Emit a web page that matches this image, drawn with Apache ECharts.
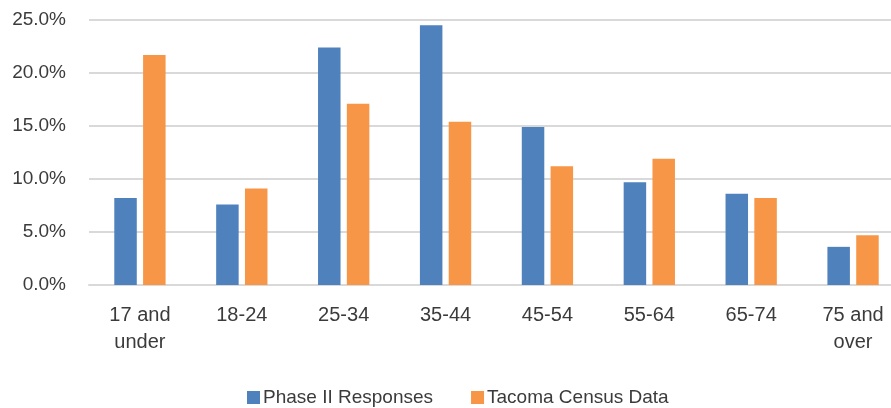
<!DOCTYPE html>
<html>
<head>
<meta charset="utf-8">
<script src="https://cdn.jsdelivr.net/npm/echarts@6/dist/echarts.min.js"></script>
<style>
  html, body { margin: 0; padding: 0; background: #ffffff; }
  #chart { width: 891px; height: 408px; }
</style>
</head>
<body>
<div id="chart"></div>
<script>
// Age groups on the category axis
const ageGroups = ['17 and\nunder', '18-24', '25-34', '35-44', '45-54', '55-64', '65-74', '75 and\nover'];
// Share of respondents per age group (%)
const phaseTwoResponses = [8.2, 7.6, 22.4, 24.5, 14.9, 9.7, 8.6, 3.6];
// Share of city population per age group (%)
const tacomaCensus = [21.7, 9.1, 17.1, 15.4, 11.2, 11.9, 8.2, 4.7];
// Value axis ticks (%)
const yTicks = { min: 0, max: 25, step: 5 };

const fontFamily = '"Liberation Sans", Arial, sans-serif';
const textColor = '#3b3b3b';

const chart = echarts.init(document.getElementById('chart'), null, { renderer: 'canvas' });
chart.setOption({
  backgroundColor: '#ffffff',
  animation: false,
  // plot area runs past the right edge of the canvas
  grid: { left: 89, top: 20, width: 815, height: 265, containLabel: false, outerBoundsMode: 'none' },
  legend: {
    left: 242,
    top: 383,
    itemWidth: 13,
    itemHeight: 13,
    itemGap: 38,
    icon: 'rect',
    textStyle: { fontFamily, fontSize: 19, color: textColor, padding: [0, 0, 0, -2] },
    data: ['Phase II Responses', 'Tacoma Census Data']
  },
  xAxis: {
    type: 'category',
    data: ageGroups,
    axisLine: { show: true, lineStyle: { color: '#d9d9d9', width: 2 } },
    axisTick: { show: false },
    axisLabel: {
      fontFamily, fontSize: 20, color: textColor, margin: 17, lineHeight: 27, interval: 0
    }
  },
  yAxis: {
    type: 'value',
    min: yTicks.min,
    max: yTicks.max,
    interval: yTicks.step,
    axisLine: { show: false },
    axisTick: { show: false },
    splitLine: { lineStyle: { color: '#d9d9d9', width: 2 } },
    axisLabel: {
      fontFamily, fontSize: 19, color: textColor, margin: 23,
      formatter: v => v.toFixed(1) + '%'
    }
  },
  series: [
    {
      name: 'Phase II Responses',
      type: 'bar',
      data: phaseTwoResponses,
      barWidth: 22.5,
      barGap: '28%',
      itemStyle: { color: '#4f81bd' }
    },
    {
      name: 'Tacoma Census Data',
      type: 'bar',
      data: tacomaCensus,
      barWidth: 22.5,
      itemStyle: { color: '#f79646' }
    }
  ]
});
</script>
</body>
</html>
